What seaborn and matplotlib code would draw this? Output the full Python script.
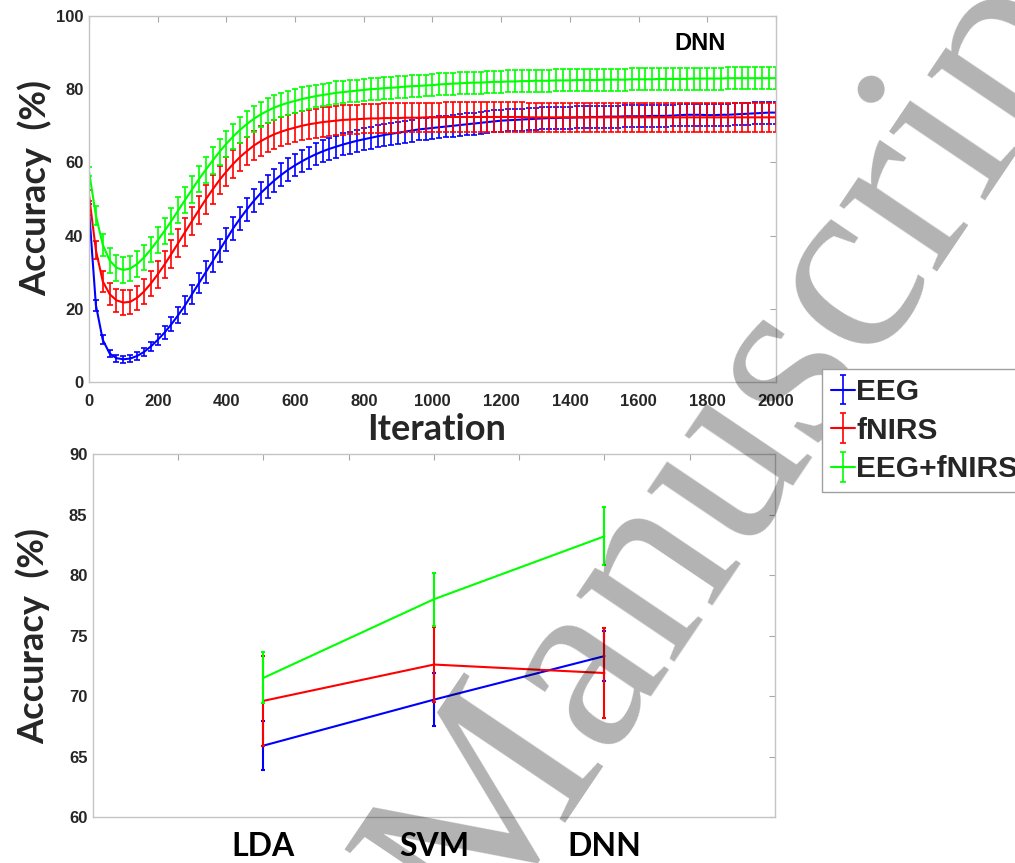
import numpy as np
import seaborn as sns
import matplotlib.pyplot as plt
from matplotlib.legend_handler import HandlerTuple

# ---- data ----
iterations = np.arange(0, 2001, 20)

eeg_curve = [47.0, 21.0, 11.5, 7.8, 6.5, 6.2, 6.4, 7.1, 8.2, 9.7,
             11.5, 13.5, 15.8, 18.3, 21.0, 24.0, 27.0, 30.0, 33.0, 36.0,
             39.0, 42.0, 44.7, 47.2, 49.5, 51.6, 53.4, 55.1, 56.6, 58.0,
             59.2, 60.3, 61.3, 62.2, 63.0, 63.7, 64.3, 64.9, 65.4, 65.9,
             66.3, 66.7, 67.1, 67.5, 67.8, 68.1, 68.4, 68.7, 69.0, 69.2,
             69.4, 69.6, 69.8, 70.0, 70.2, 70.4, 70.6, 70.8, 71.0, 71.2,
             71.4, 71.5, 71.6, 71.7, 71.8, 71.9, 72.0, 72.1, 72.1, 72.2,
             72.2, 72.3, 72.3, 72.4, 72.4, 72.5, 72.5, 72.5, 72.6, 72.6,
             72.6, 72.6, 72.7, 72.7, 72.7, 72.8, 72.9, 73.0, 73.0, 73.0,
             72.9, 72.9, 73.0, 73.0, 73.1, 73.2, 73.3, 73.4, 73.5, 73.6,
             73.6]
eeg_curve_err = [1.5, 1.5, 1.2, 1.0, 1.0, 1.0, 1.0, 1.1, 1.2, 1.3,
                 1.5, 1.7, 2.0, 2.2, 2.4, 2.6, 2.8, 3.0, 3.0, 3.1,
                 3.1, 3.1, 3.1, 3.1, 3.1, 3.1, 3.1, 3.1, 3.1, 3.1,
                 3.0, 3.0, 3.0, 3.0, 3.0, 3.0, 3.0, 3.0, 3.0, 3.0,
                 3.0, 3.0, 3.0, 3.0, 3.0, 3.0, 3.0, 3.0, 3.0, 3.0,
                 3.0, 3.0, 3.0, 3.0, 3.0, 3.0, 3.0, 3.0, 3.0, 3.0,
                 3.0, 3.0, 3.0, 3.0, 3.0, 3.0, 3.0, 3.0, 3.0, 3.0,
                 3.0, 3.0, 3.0, 3.0, 3.0, 3.0, 3.0, 3.0, 3.0, 3.0,
                 3.0, 3.0, 3.0, 3.0, 3.0, 3.0, 3.0, 3.0, 3.0, 3.0,
                 3.0, 3.0, 3.0, 3.0, 3.0, 3.0, 3.0, 3.0, 3.0, 3.0,
                 3.0]

fnirs_curve = [51.0, 36.0, 27.5, 24.0, 22.3, 21.7, 21.9, 23.0, 24.7, 26.9,
               29.4, 32.1, 35.0, 38.0, 41.0, 44.0, 47.0, 49.9, 52.6, 55.2,
               57.5, 59.6, 61.5, 63.1, 64.6, 65.8, 66.8, 67.7, 68.4, 69.0,
               69.5, 70.0, 70.4, 70.7, 71.0, 71.2, 71.4, 71.6, 71.7, 71.8,
               71.9, 72.0, 72.0, 72.1, 72.1, 72.1, 72.2, 72.2, 72.2, 72.3,
               72.3, 72.3, 72.4, 72.4, 72.4, 72.4, 72.4, 72.4, 72.4, 72.4,
               72.4, 72.4, 72.4, 72.4, 72.3, 72.3, 72.3, 72.3, 72.3, 72.3,
               72.3, 72.3, 72.3, 72.3, 72.3, 72.3, 72.3, 72.3, 72.3, 72.3,
               72.3, 72.3, 72.3, 72.3, 72.3, 72.3, 72.3, 72.3, 72.3, 72.3,
               72.3, 72.3, 72.3, 72.3, 72.3, 72.3, 72.3, 72.3, 72.3, 72.3,
               72.3]
fnirs_curve_err = [1.5, 2.5, 2.8, 3.0, 3.2, 3.3, 3.3, 3.3, 3.4, 3.5,
                   3.6, 3.7, 3.8, 3.8, 3.9, 3.9, 3.9, 3.9, 3.9, 3.9,
                   3.9, 3.9, 3.9, 3.9, 3.9, 4.0, 4.0, 4.0, 4.0, 4.0,
                   4.0, 4.0, 4.0, 4.0, 4.0, 4.0, 4.0, 4.0, 4.0, 4.0,
                   4.0, 4.0, 4.0, 4.0, 4.0, 4.0, 4.0, 4.0, 4.0, 4.0,
                   4.0, 4.0, 4.0, 4.0, 4.0, 4.0, 4.0, 4.0, 4.0, 4.0,
                   4.0, 4.0, 4.0, 4.0, 4.0, 4.0, 4.0, 4.0, 4.0, 4.0,
                   4.0, 4.0, 4.0, 4.0, 4.0, 4.0, 4.0, 4.0, 4.0, 4.0,
                   4.0, 4.0, 4.0, 4.0, 4.0, 4.0, 4.0, 4.0, 4.0, 4.0,
                   4.0, 4.0, 4.0, 4.0, 4.0, 4.0, 4.0, 4.0, 4.0, 4.0,
                   4.0]

hybrid_curve = [57.5, 45.5, 37.5, 33.2, 31.2, 30.6, 31.0, 32.2, 34.0, 36.2,
                38.7, 41.3, 44.0, 46.9, 49.8, 52.6, 55.4, 58.0, 60.5, 62.9,
                65.1, 67.1, 68.9, 70.5, 71.9, 73.1, 74.1, 75.0, 75.7, 76.3,
                76.8, 77.3, 77.7, 78.1, 78.4, 78.7, 79.0, 79.2, 79.4, 79.6,
                79.8, 80.0, 80.1, 80.3, 80.4, 80.5, 80.7, 80.8, 80.9, 81.0,
                81.1, 81.3, 81.4, 81.5, 81.6, 81.7, 81.8, 81.8, 81.9, 82.0,
                82.0, 82.1, 82.1, 82.2, 82.2, 82.3, 82.3, 82.3, 82.4, 82.4,
                82.4, 82.5, 82.5, 82.5, 82.5, 82.6, 82.6, 82.6, 82.6, 82.7,
                82.7, 82.7, 82.7, 82.8, 82.8, 82.8, 82.8, 82.8, 82.9, 82.9,
                82.9, 82.9, 82.9, 83.0, 83.0, 83.0, 83.0, 83.0, 83.0, 83.0,
                83.0]
hybrid_curve_err = [1.2, 2.5, 3.0, 3.3, 3.5, 3.5, 3.5, 3.5, 3.5, 3.5,
                    3.6, 3.6, 3.6, 3.6, 3.6, 3.6, 3.6, 3.6, 3.6, 3.6,
                    3.6, 3.5, 3.5, 3.5, 3.5, 3.4, 3.4, 3.4, 3.3, 3.3,
                    3.2, 3.2, 3.2, 3.1, 3.1, 3.1, 3.1, 3.0, 3.0, 3.0,
                    3.0, 3.0, 3.0, 3.0, 3.0, 3.0, 3.0, 3.0, 3.0, 3.0,
                    3.0, 3.0, 3.0, 3.0, 3.0, 3.0, 3.0, 3.0, 3.0, 3.0,
                    3.0, 3.0, 3.0, 3.0, 3.0, 3.0, 3.0, 3.0, 3.0, 3.0,
                    3.0, 3.0, 3.0, 3.0, 3.0, 3.0, 3.0, 3.0, 3.0, 3.0,
                    3.0, 3.0, 3.0, 3.0, 3.0, 3.0, 3.0, 3.0, 3.0, 3.0,
                    3.0, 3.0, 3.0, 3.0, 3.0, 3.0, 3.0, 3.0, 3.0, 3.0,
                    3.0]

methods = ['LDA', 'SVM', 'DNN']
method_pos = [3, 5, 7]
eeg_acc = [65.9, 69.7, 73.3]
eeg_std = [2.0, 2.2, 2.1]
fnirs_acc = [69.6, 72.6, 71.9]
fnirs_std = [3.7, 3.1, 3.7]
hybrid_acc = [71.5, 78.0, 83.2]
hybrid_std = [2.1, 2.2, 2.4]

names = ['EEG', 'fNIRS', 'EEG+fNIRS']
colors = ['#0000ff', '#ff0000', '#00ff00']

# ---- style ----
sns.set_theme(style='white')
plt.rcParams['font.family'] = ['Liberation Sans', 'DejaVu Sans']

tick_font = dict(family='Liberation Sans', weight='bold', size=12)
label_font = dict(family='Lato', weight='bold', size=26)
spine_col = '#c4c4c4'
tick_col = '#262626'

fig = plt.figure(figsize=(10.15, 8.63), dpi=100)
ax1 = fig.add_axes([0.0877, 0.5574, 0.6768, 0.4241])
ax2 = fig.add_axes([0.0916, 0.0533, 0.6719, 0.4206])


def style_axes(ax):
    for sp in ax.spines.values():
        sp.set_color(spine_col)
        sp.set_linewidth(1.0)
    ax.tick_params(direction='in', length=4, width=0.8, color='#a8a8a8',
                   top=True, right=True, labelcolor=tick_col)
    for lab in ax.get_yticklabels():
        lab.set_fontproperties(tick_font)


# ---- top: accuracy vs iteration ----
handles = []
curves = [(eeg_curve, eeg_curve_err), (fnirs_curve, fnirs_curve_err),
          (hybrid_curve, hybrid_curve_err)]
for (m, e), c in zip(curves, colors):
    sns.lineplot(x=iterations, y=m, color=c, lw=1.5, ax=ax1)
    line = ax1.lines[-1]
    eb = ax1.errorbar(iterations, m, yerr=e, fmt='none', ecolor=c,
                      elinewidth=1.2, capsize=2.5, capthick=1.2)
    handles.append((line, eb))

ax1.set_xlim(0, 2000)
ax1.set_ylim(0, 100)
ax1.set_xticks(range(0, 2001, 200))
ax1.set_yticks(range(0, 101, 20))
style_axes(ax1)
ax1.tick_params(axis='x', pad=9)
ax1.tick_params(axis='y', pad=4)
for lab in ax1.get_xticklabels():
    lab.set_fontproperties(tick_font)
ax1.set_xlabel('Iteration', **label_font)
ax1.set_ylabel('Accuracy  (%)', **label_font)
ax1.xaxis.set_label_coords(0.5066, -0.085)
ax1.yaxis.set_label_coords(-0.054, 0.53)
ax1.text(0.89, 0.925, 'DNN', transform=ax1.transAxes, ha='center', va='center',
         family='Liberation Sans', weight='bold', size=17, color='black')

# ---- bottom: classifier comparison ----
bottom = [(eeg_acc, eeg_std), (fnirs_acc, fnirs_std), (hybrid_acc, hybrid_std)]
for (m, e), c in zip(bottom, colors):
    sns.lineplot(x=method_pos, y=m, color=c, lw=1.5, ax=ax2)
    ax2.errorbar(method_pos, m, yerr=e, fmt='none', ecolor=c,
                 elinewidth=1.5, capsize=1.5, capthick=1.5)

ax2.set_xlim(1, 9)
ax2.set_ylim(60, 90)
ax2.set_xticks(range(2, 9))
ax2.set_xticklabels(['', 'LDA', '', 'SVM', '', 'DNN', ''],
                    family='Lato', weight='bold', size=23)
ax2.set_yticks(range(60, 91, 5))
style_axes(ax2)
ax2.tick_params(axis='x', pad=11, labelcolor='black')
ax2.tick_params(axis='y', pad=4)
ax2.set_ylabel('Accuracy  (%)', **label_font)
ax2.yaxis.set_label_coords(-0.063, 0.5)

# ---- legend ----
leg = fig.legend(handles, names, loc='upper left',
                 bbox_to_anchor=(0.81, 0.5724), borderaxespad=0,
                 handler_map={tuple: HandlerTuple(ndivide=1)},
                 prop=dict(family='Liberation Sans', weight='bold', size=21.5),
                 handlelength=0.8, handletextpad=0.05, labelspacing=0.36,
                 borderpad=0.3, fancybox=False, framealpha=1,
                 edgecolor='#a0a0a0')
leg.get_frame().set_linewidth(1.0)
leg.set_zorder(10)

# ---- watermark ----
fig.text(0.742, 0.509, 'Manuscript', rotation=56, rotation_mode='anchor',
         ha='center', va='center', family='Liberation Serif', size=185,
         color='black', alpha=0.3, zorder=5)

fig.savefig('out.png', dpi=100)
